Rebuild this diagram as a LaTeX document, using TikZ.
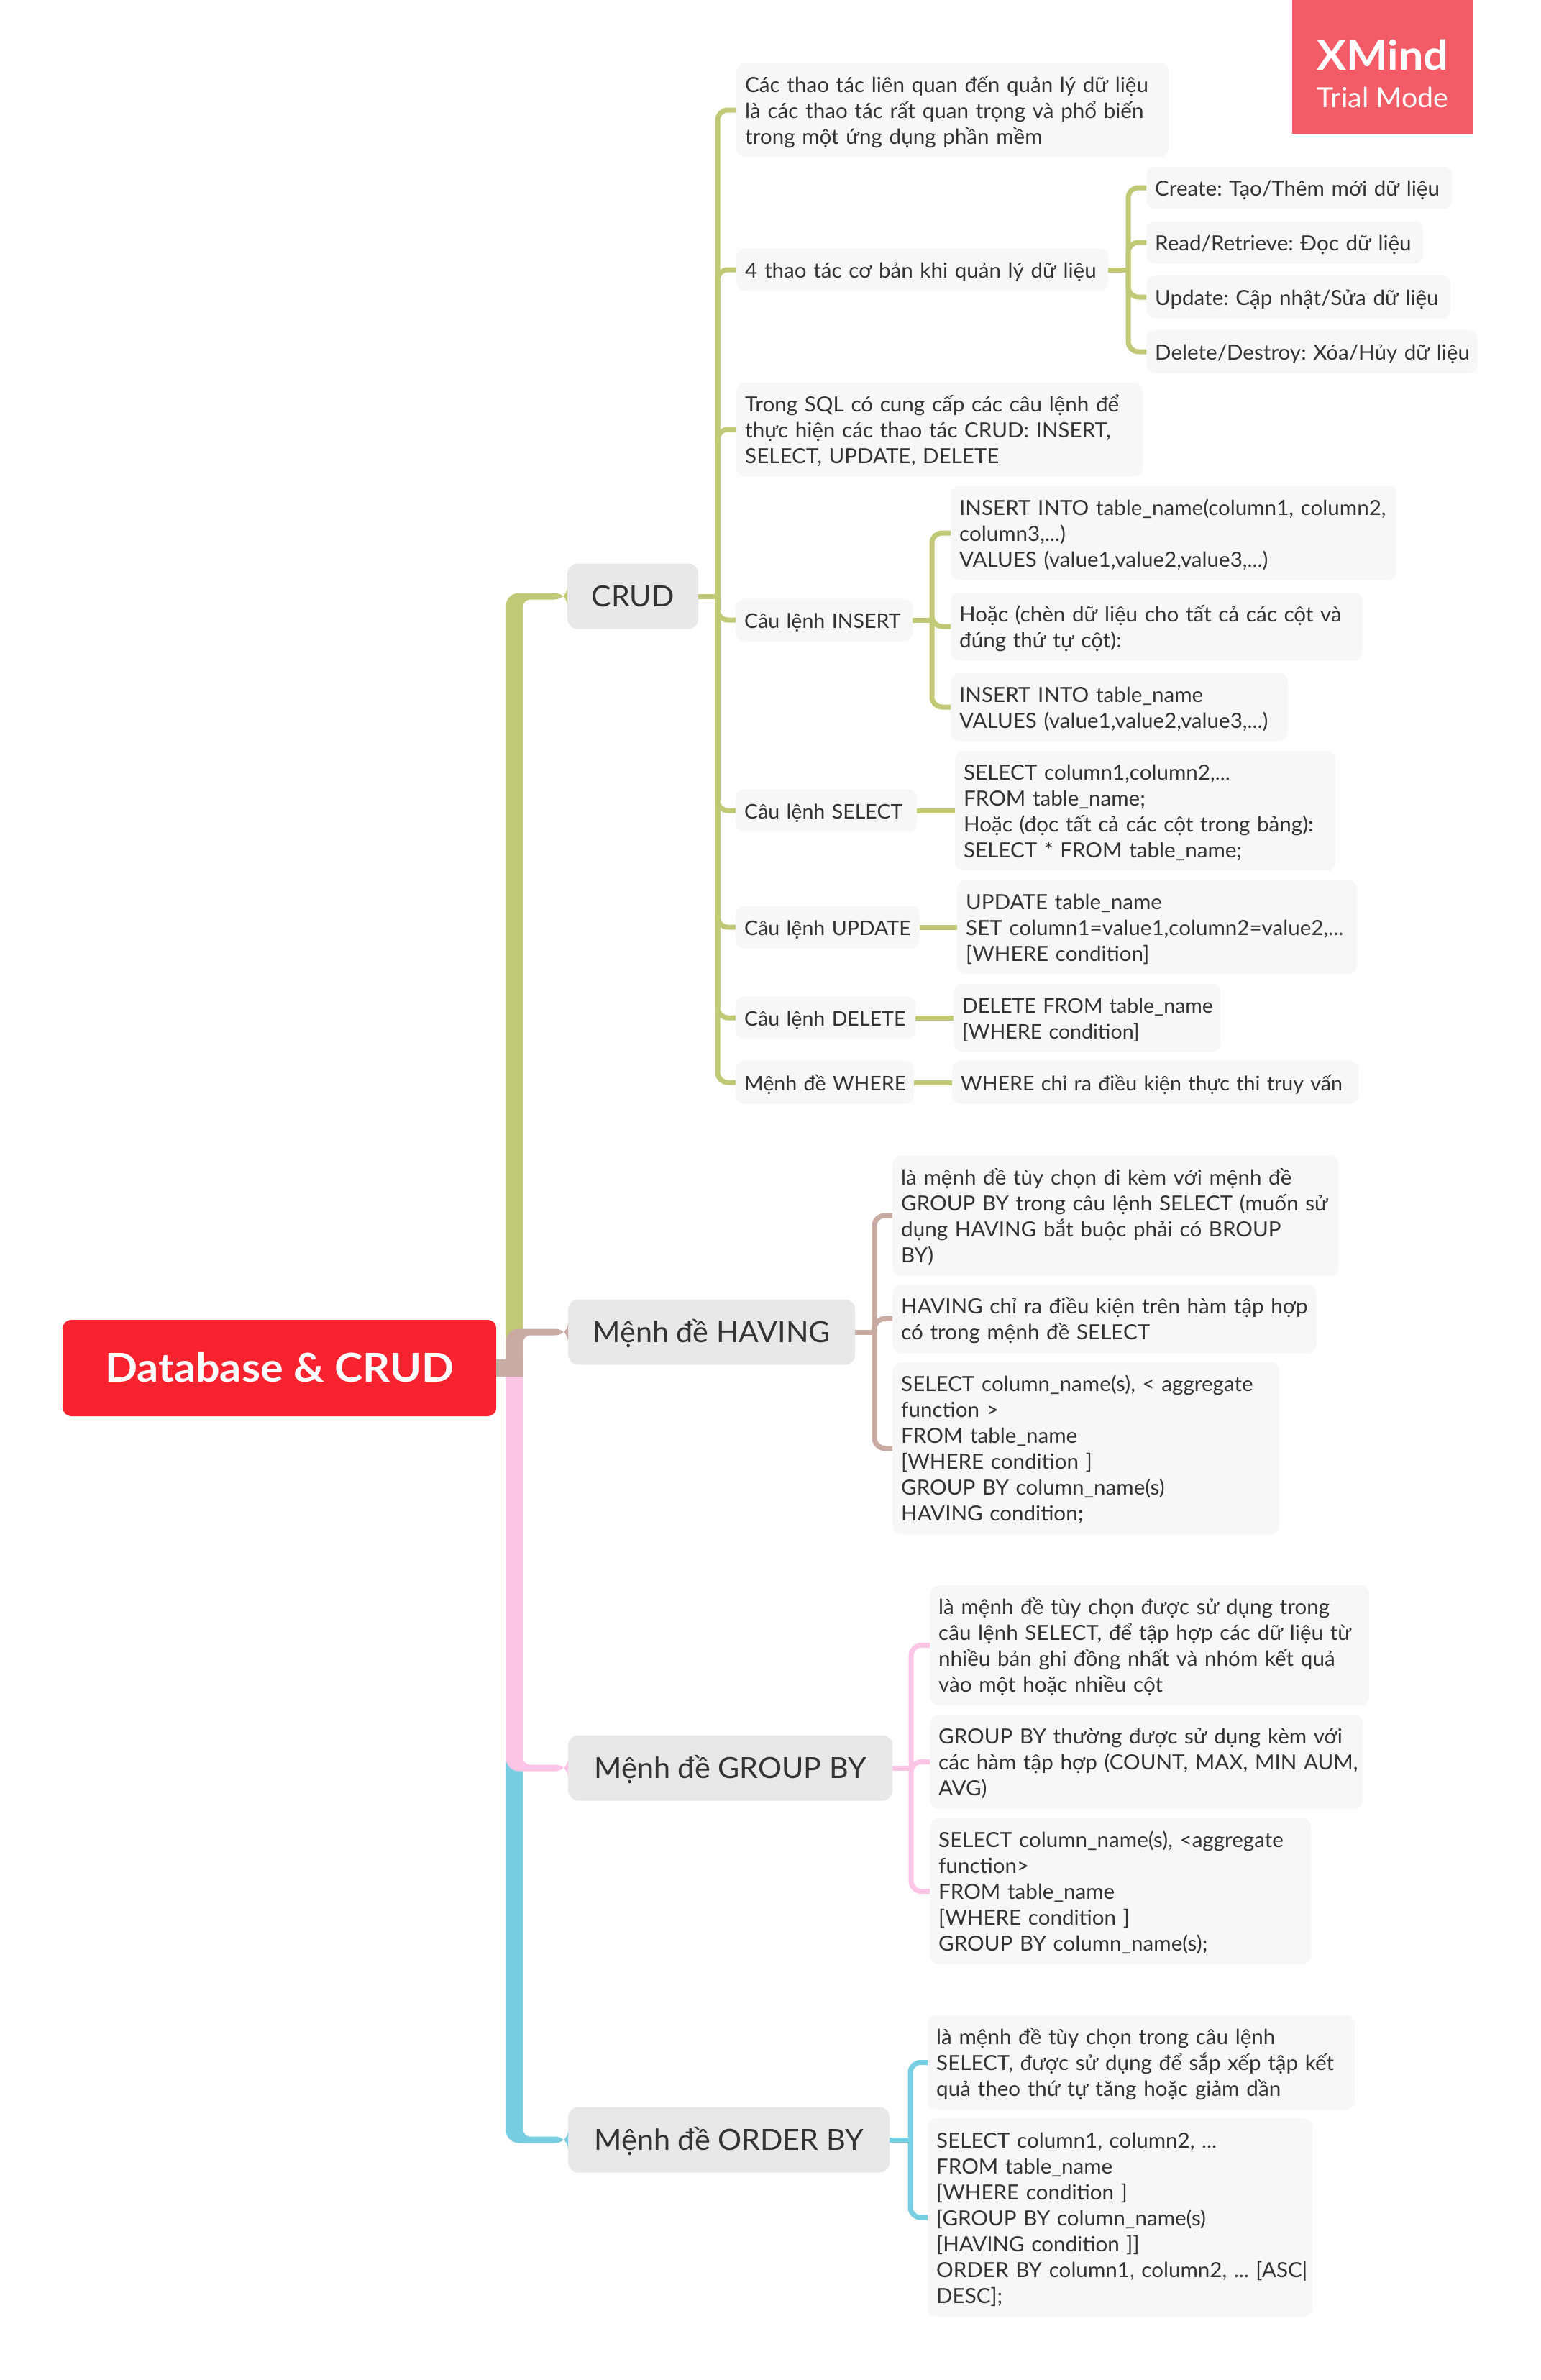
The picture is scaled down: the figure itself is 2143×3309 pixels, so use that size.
\documentclass[tikz,border=0pt]{standalone}
\usepackage{fontspec}
\setmainfont[FakeStretch=1.02,BoldFeatures={FakeStretch=1.07}]{Lato}
\usetikzlibrary{positioning}
\definecolor{cOlive}{HTML}{C1C977}
\definecolor{cBrown}{HTML}{C9ABA3}
\definecolor{cPink}{HTML}{FDC5E5}
\definecolor{cCyan}{HTML}{78CEE1}
\definecolor{cInk}{HTML}{333333}
\begin{document}
\frenchspacing
\begin{tikzpicture}[x=1pt,y=-1pt,
    rootbox/.style = {fill={rgb,255:red,249;green,35;blue,47}, text=white, rounded corners=12, anchor=west, minimum width=603, minimum height=134, text height=50, text depth=11, font=\bfseries\fontsize{55.4}{60}\selectfont},
    topic/.style = {fill={rgb,255:red,232;green,232;blue,232}, text=cInk, rounded corners=14, anchor=west, minimum width=#1, minimum height=91, text height=38, text depth=10, font=\fontsize{40.5}{46}\selectfont},
    leaf/.style 2 args = {fill={rgb,255:red,247;green,247;blue,247}, text=cInk, rounded corners=12, anchor=west, inner xsep=12, inner ysep=0, text width=#1-24, minimum height=#2, align=left, font=\fontsize{29}{36}\selectfont, execute at begin node={\rightskip=-40pt plus 1fil\relax\rule[-7pt]{0pt}{36pt}}, execute at end node={\rule[-7pt]{0pt}{36pt}}},
    tight/.style = {font=\fontsize{28}{36}\selectfont},
    mainbranch/.style = {to path={[rounded corners=18] ++(-12,0) |- ([yshift=#1]\tikztotarget) -- ([yshift=-#1]\tikztotarget) [rounded corners=10] -| ([xshift=12]\tikztostart) -- cycle}},
    twig/.style = {line width=7, rounded corners=14}]
    \useasboundingbox (0,0) rectangle (2143,3309);
    % trial badge
    \fill[fill={rgb,255:red,243;green,91;blue,102}] (1797,0) rectangle (2048,186);
    \node[text=white, font=\bfseries\fontsize{57}{60}\selectfont] (badge1) at (1923,77) {XMind};
    \node[text=white, font=\fontsize{38.5}{38}\selectfont] (badge2) at (1923,135) {Trial Mode};
    % root and topics
    \node[rootbox] (root) at (87,1902) {Database \& CRUD};
    \node[topic=182] (crud) at (789,829) {CRUD};
    \node[topic=399] (having) at (790,1852) {Mệnh đề HAVING};
    \node[topic=451] (group) at (790,2458) {Mệnh đề GROUP BY};
    \node[topic=447] (order) at (790,2975) {Mệnh đề ORDER BY};
    \coordinate (hub) at (715.5,1902);
    \fill[cOlive] (hub) to[mainbranch=4.5] (crud.west);
    \fill[cCyan] (hub) to[mainbranch=-4.5] (order.west);
    \fill[cPink] (hub) to[mainbranch=-4.5] (group.west);
    \fill[cBrown] (hub) to[mainbranch=4.5] (having.west);
    \coordinate (hubend) at (727.5,1902);
    \draw[cBrown, line width=24] (root.east) -- (hubend);
    % CRUD
    \node[leaf={601}{131}] (c1) at (1024,153) {Các thao tác liên quan đến quản lý dữ liệu\\là các thao tác rất quan trọng và phổ biến\\trong một ứng dụng phần mềm};
    \node[leaf={517}{59}] (c2) at (1024,375) {4 thao tác cơ bản khi quản lý dữ liệu};
    \node[leaf={565}{131}] (c3) at (1024,597) {Trong SQL có cung cấp các câu lệnh để\\thực hiện các thao tác CRUD: INSERT,\\SELECT, UPDATE, DELETE};
    \node[leaf={246}{59}, tight] (c4) at (1023,862) {Câu lệnh INSERT};
    \node[leaf={252}{59}, tight] (c5) at (1023,1127) {Câu lệnh SELECT};
    \node[leaf={256}{59}, tight] (c6) at (1023,1289) {Câu lệnh UPDATE};
    \node[leaf={250}{59}, tight] (c7) at (1023,1415) {Câu lệnh DELETE};
    \node[leaf={248}{60}, tight] (c8) at (1023,1505) {Mệnh đề WHERE};
    \node[leaf={425}{59}] (d1) at (1594,261) {Create: Tạo/Thêm mới dữ liệu};
    \node[leaf={385}{59}] (d2) at (1594,337) {Read/Retrieve: Đọc dữ liệu};
    \node[leaf={423}{60}] (d3) at (1594,413) {Update: Cập nhật/Sửa dữ liệu};
    \node[leaf={461}{60}] (d4) at (1594,489) {Delete/Destroy: Xóa/Hủy dữ liệu};
    \node[leaf={620}{131}] (i1) at (1322,741) {INSERT INTO table\_name(column1, column2,\\column3,...)\\VALUES (value1,value2,value3,...)};
    \node[leaf={573}{95}] (i2) at (1322,871) {Hoặc (chèn dữ liệu cho tất cả các cột và\\đúng thứ tự cột):};
    \node[leaf={469}{94}] (i3) at (1322,983) {INSERT INTO table\_name\\VALUES (value1,value2,value3,...)};
    \node[leaf={529}{167}] (s1) at (1328,1127) {SELECT column1,column2,...\\FROM table\_name;\\Hoặc (đọc tất cả các cột trong bảng):\\SELECT * FROM table\_name;};
    \node[leaf={556}{131}] (u1) at (1331,1289) {UPDATE table\_name\\SET column1=value1,column2=value2,...\\{[}WHERE condition{]}};
    \node[leaf={371}{95}, tight] (e1) at (1326,1415) {DELETE FROM table\_name\\{[}WHERE condition{]}};
    \node[leaf={565}{60}, tight] (w1) at (1324,1505) {WHERE chỉ ra điều kiện thực thi truy vấn};
    \coordinate (sc) at (998,829);
    \coordinate (sd) at (1569,375);
    \coordinate (si) at (1296,862);
    \draw[cOlive, line width=7] (crud.east) -- (sc);
    \foreach \n in {c1,c2,c3,c4,c5,c6,c7,c8}
        \draw[cOlive, twig] (sc) |- (\n.west);
    \draw[cOlive, line width=7] (c2.east) -- (sd);
    \foreach \n in {d1,d2,d3,d4}
        \draw[cOlive, twig] (sd) |- (\n.west);
    \draw[cOlive, line width=7] (c4.east) -- (si);
    \foreach \n in {i1,i2,i3}
        \draw[cOlive, twig] (si) |- (\n.west);
    \draw[cOlive, line width=7] (c5) -- (s1);
    \draw[cOlive, line width=7] (c6) -- (u1);
    \draw[cOlive, line width=7] (c7) -- (e1);
    \draw[cOlive, line width=7] (c8) -- (w1);
    % HAVING
    \node[leaf={620}{167}] (h1) at (1241,1690) {là mệnh đề tùy chọn đi kèm với mệnh đề\\GROUP BY trong câu lệnh SELECT (muốn sử\\dụng HAVING bắt buộc phải có BROUP\\BY)};
    \node[leaf={590}{95}] (h2) at (1241,1833.5) {HAVING chỉ ra điều kiện trên hàm tập hợp\\có trong mệnh đề SELECT};
    \node[leaf={538}{239}] (h3) at (1241,2013.5) {SELECT column\_name(s), < aggregate\\function >\\FROM table\_name\\{[}WHERE condition {]}\\GROUP BY column\_name(s)\\HAVING condition;};
    \coordinate (sh) at (1216,1852);
    \draw[cBrown, line width=7] (having.east) -- (sh);
    \foreach \n in {h1,h2,h3}
        \draw[cBrown, twig] (sh) |- (\n.west);
    % GROUP BY
    \node[leaf={611}{167}] (g1) at (1293,2287.5) {là mệnh đề tùy chọn được sử dụng trong\\câu lệnh SELECT, để tập hợp các dữ liệu từ\\nhiều bản ghi đồng nhất và nhóm kết quả\\vào một hoặc nhiều cột};
    \node[leaf={602}{131}] (g2) at (1293,2449.5) {GROUP BY thường được sử dụng kèm với\\các hàm tập hợp (COUNT, MAX, MIN AUM,\\AVG)};
    \node[leaf={530}{203}] (g3) at (1293,2629.5) {SELECT column\_name(s), <aggregate\\function>\\FROM table\_name\\{[}WHERE condition {]}\\GROUP BY column\_name(s);};
    \coordinate (sg) at (1267,2458);
    \draw[cPink, line width=7] (group.east) -- (sg);
    \foreach \n in {g1,g2,g3}
        \draw[cPink, twig] (sg) |- (\n.west);
    % ORDER BY
    \node[leaf={594}{131}] (o1) at (1290,2867.5) {là mệnh đề tùy chọn trong câu lệnh\\SELECT, được sử dụng để sắp xếp tập kết\\quả theo thứ tự tăng hoặc giảm dần};
    \node[leaf={535}{276}] (o2) at (1290,3083) {SELECT column1, column2, ...\\FROM table\_name\\{[}WHERE condition {]}\\{[}GROUP BY column\_name(s)\\{[}HAVING condition {]}{]}\\ORDER BY column1, column2, ... {[}ASC|\\DESC{]};};
    \coordinate (so) at (1266,2975);
    \draw[cCyan, line width=7] (order.east) -- (so);
    \foreach \n in {o1,o2}
        \draw[cCyan, twig] (so) |- (\n.west);
\end{tikzpicture}
\end{document}
